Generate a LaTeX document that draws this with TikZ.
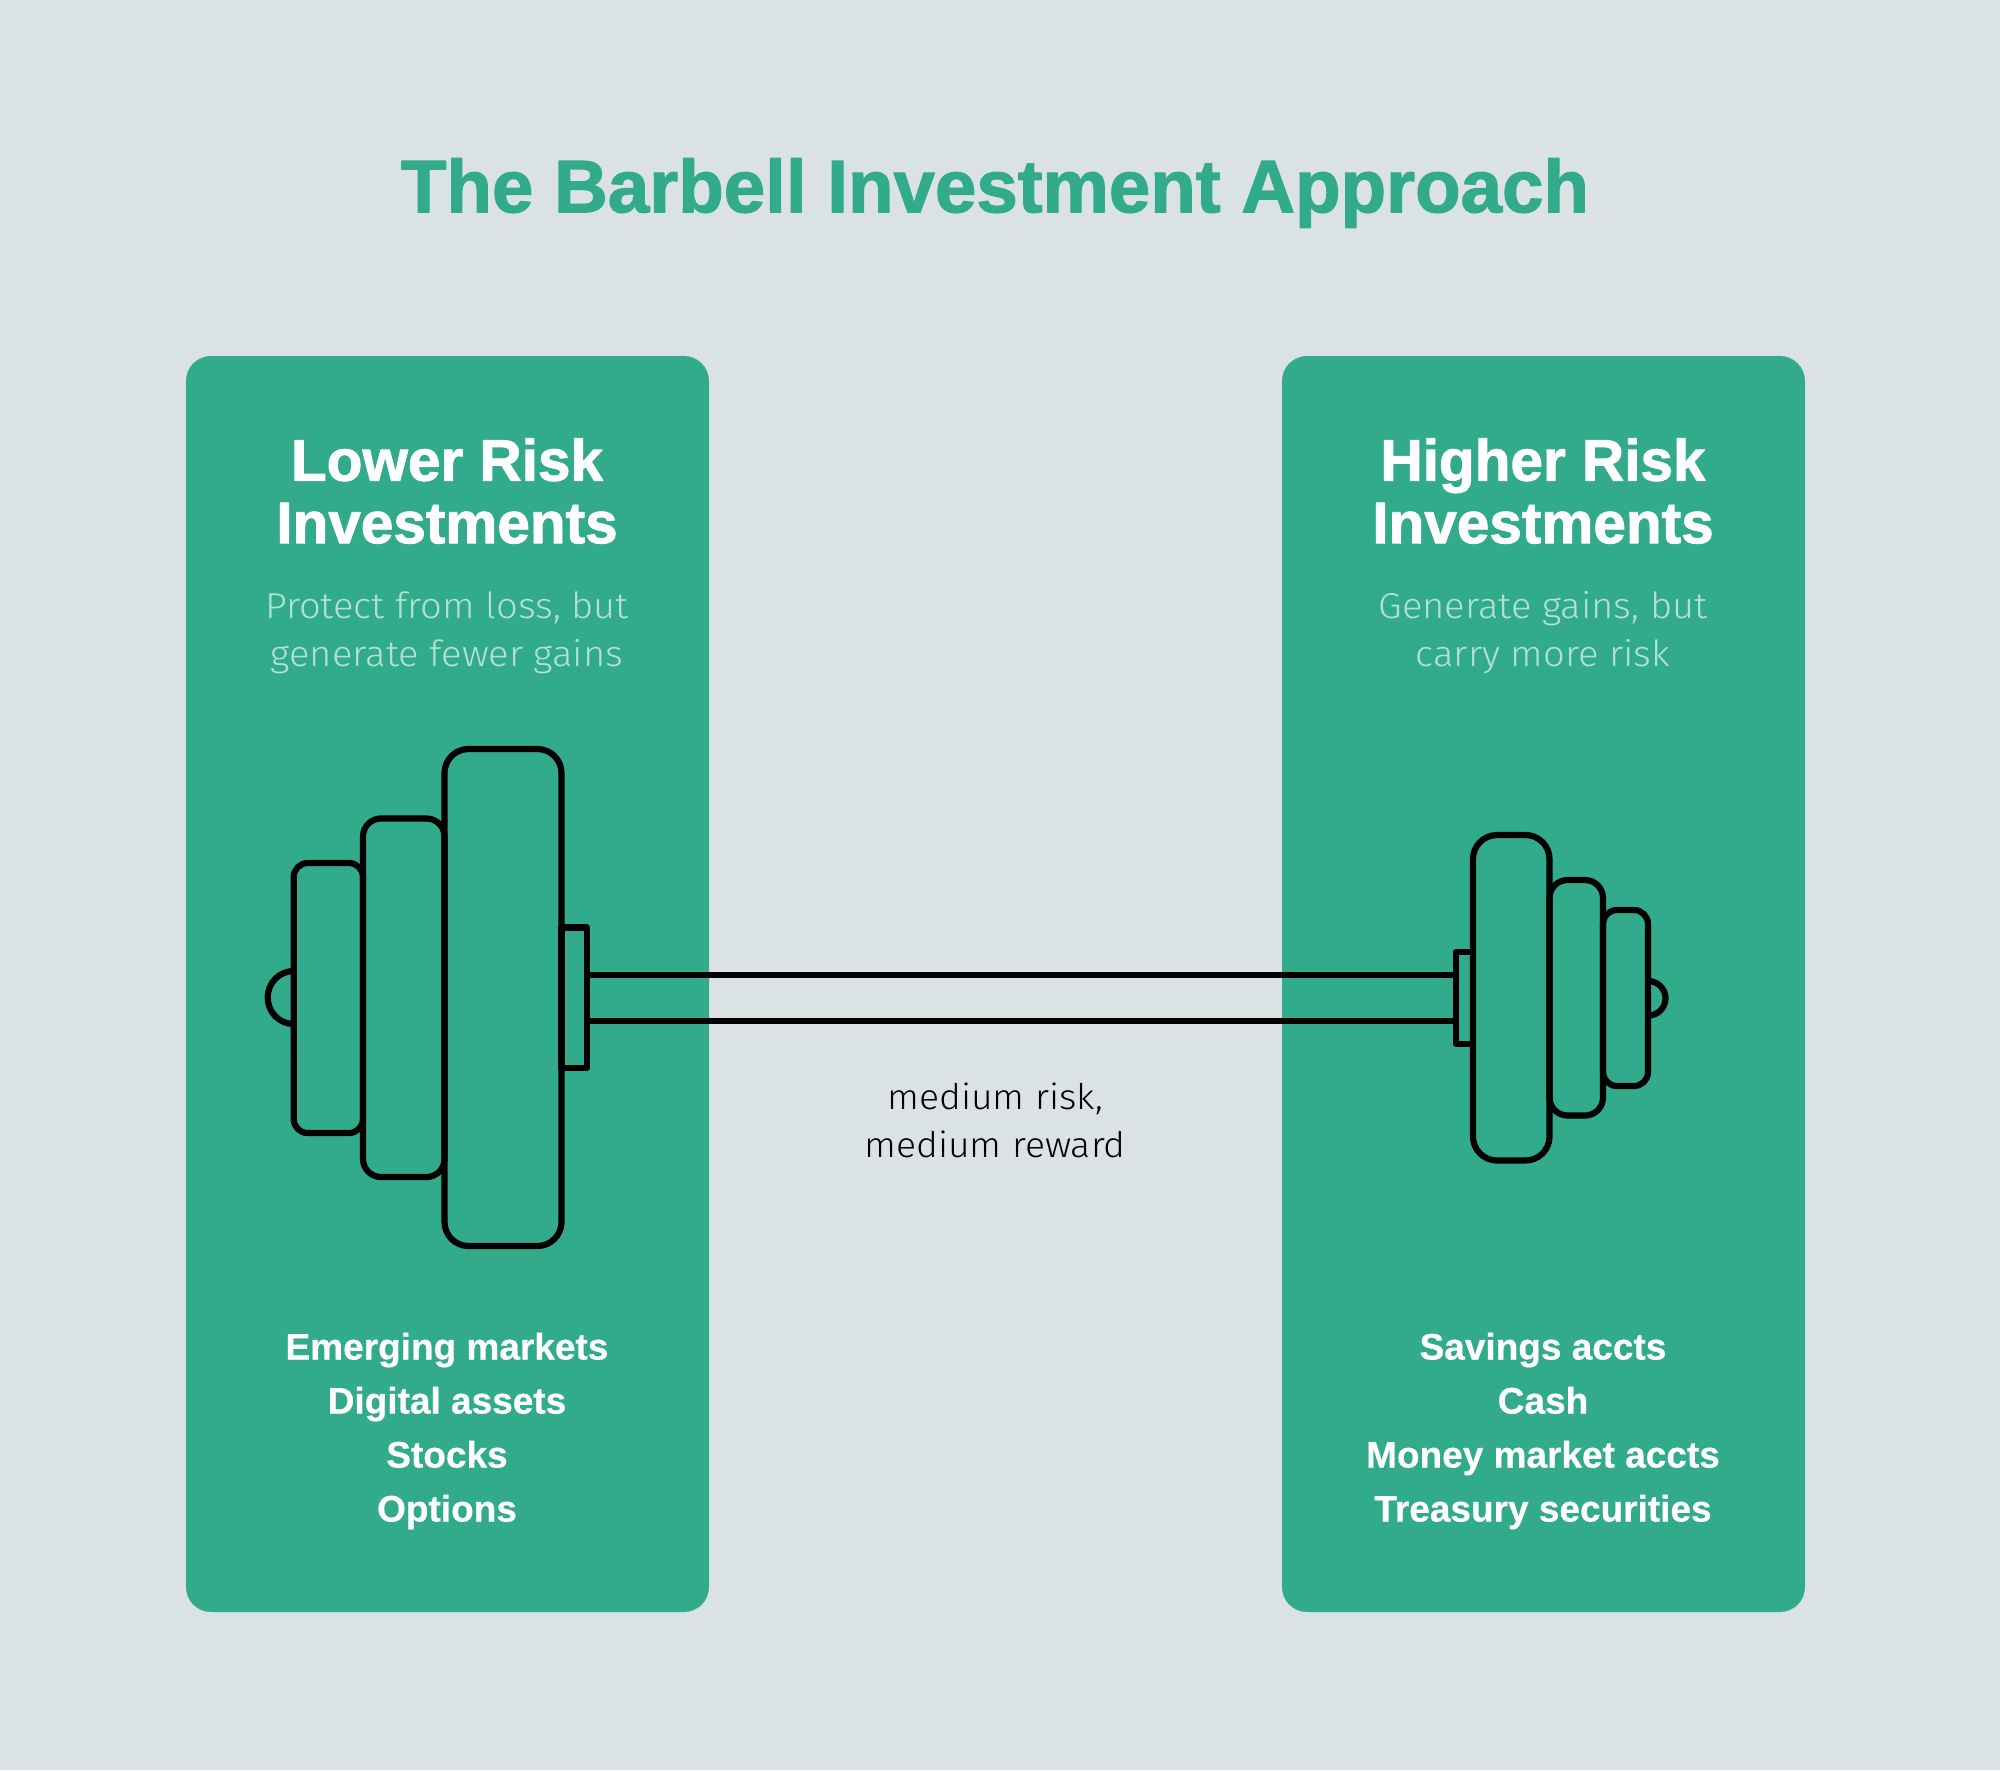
\documentclass[tikz,border=0pt]{standalone}
\usepackage{fontspec}
\setmainfont{Liberation Sans}
\newfontfamily\heavyfont[FakeBold=1.6]{Liberation Sans Bold}
\newfontfamily\itemfont[FakeBold=0.5]{Liberation Sans Bold}
\newfontfamily\lightfont[FakeStretch=1.06]{Fira Sans Light}
\definecolor{backgrey}{HTML}{DAE2E3}
\definecolor{panelgreen}{HTML}{32AB8D}
\definecolor{subgreen}{HTML}{B2E2D2}

\begin{document}
\begin{tikzpicture}[x=1pt,y=-1pt,line join=round]
    \tikzstyle{panel}=[fill=panelgreen,rounded corners=25pt]
    \tikzstyle{plate}=[draw=black,line width=6.2pt]
    \tikzstyle{heading}=[text=white,align=center,font=\heavyfont\fontsize{58.5}{62.5}\selectfont]
    \tikzstyle{subhead}=[text=subgreen,align=center,font=\lightfont\fontsize{36}{48}\selectfont]
    \tikzstyle{items}=[text=white,align=center,font=\itemfont\fontsize{37}{54}\selectfont]
    \tikzstyle{note}=[text=black,align=center,font=\lightfont\fontsize{35.3}{48}\selectfont]

    \fill[backgrey] (0,0) rectangle (2000,1770);

    \node[text=panelgreen,font=\heavyfont\fontsize{74.5}{84}\selectfont] (title) at (995,193) {The Barbell Investment Approach};

    \foreach \name/\xa/\xb in {lower/186/709, higher/1282/1805}
        \fill[panel] (\xa,356) rectangle (\xb,1612);

    % bar goes under the panels' plates
    \foreach \yy in {975,1021}
        \draw[plate] (587,\yy) -- (1456,\yy);

    % left weights
    \foreach \xa/\ya/\xb/\yb/\rad in {444.5/749/561.5/1246/24, 363/818.5/444.5/1177/18, 293.7/863/363/1133/14}
        \draw[plate,rounded corners=\rad pt] (\xa,\ya) rectangle (\xb,\yb);
    \draw[plate] (561.5,927.5) rectangle (587,1068);
    \draw[plate] (293.7,971) arc[start angle=90,end angle=270,x radius=26,y radius=-26.5];

    % right weights
    \foreach \xa/\ya/\xb/\yb/\rad in {1473/835/1549.5/1160.5/24, 1549.5/880/1603/1115.5/18, 1603/910/1648/1086/14}
        \draw[plate,rounded corners=\rad pt] (\xa,\ya) rectangle (\xb,\yb);
    \draw[plate] (1456,952) rectangle (1473,1044);
    \draw[plate] (1648,981) arc[start angle=90,end angle=-90,x radius=17.5,y radius=-17.3];

    \node[heading] (lower) at (447,491) {Lower Risk\\Investments};
    \node[heading] (higher) at (1543,491) {Higher Risk\\Investments};
    \node[subhead] (lowersub) at (447,633) {Protect from loss, but\\generate fewer gains};
    \node[subhead] (highersub) at (1543,633) {Generate gains, but\\carry more risk};
    \node[items] (loweritems) at (447,1431) {Emerging markets\\Digital assets\\Stocks\\Options};
    \node[items] (higheritems) at (1543,1431) {Savings accts\\Cash\\Money market accts\\Treasury securities};
    \node[note] (medium) at (995,1120) {medium risk,\\medium reward};

    \useasboundingbox (0,0) rectangle (2000,1770);
\end{tikzpicture}
\end{document}
